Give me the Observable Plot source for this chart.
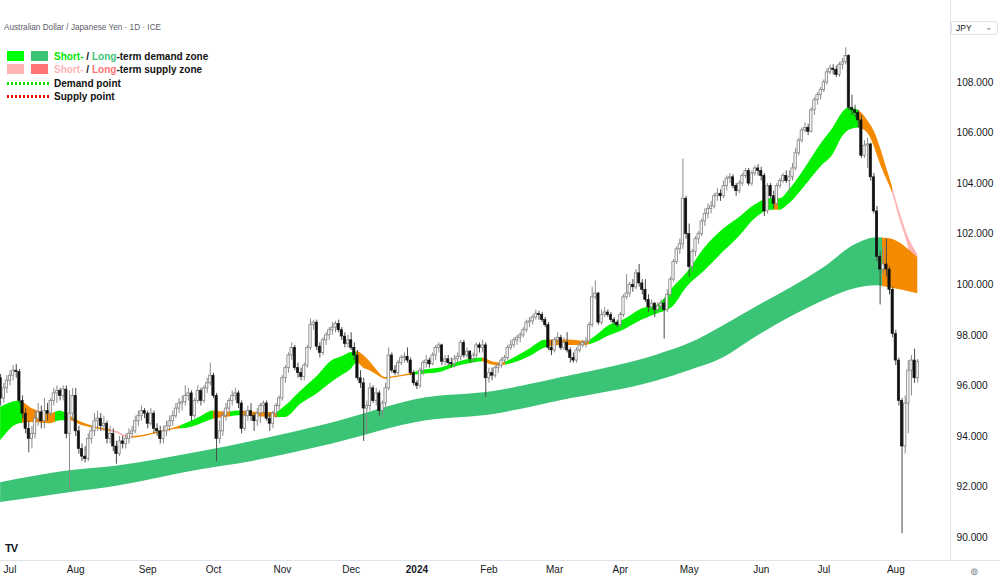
<!DOCTYPE html>
<html><head><meta charset="utf-8">
<script src="https://cdn.jsdelivr.net/npm/d3@7"></script>
<script src="https://cdn.jsdelivr.net/npm/@observablehq/plot@0.6"></script>
<style>
html,body{margin:0;padding:0;background:#fff;}
#wrap{position:relative;width:1000px;height:583px;overflow:hidden;font-family:"Liberation Sans",Arial,sans-serif;}
#chart svg{display:block}
.title{position:absolute;left:4px;top:23px;font-size:8.2px;color:#5d606b;white-space:nowrap}
.sq{position:absolute;width:17px;height:10px}
.lt{position:absolute;left:54px;font-family:"Liberation Sans",Arial,sans-serif;font-weight:bold;font-size:11.8px;color:#111;white-space:nowrap;line-height:12px;transform:scaleX(0.85);transform-origin:0 50%}
.dot{position:absolute;left:7px;width:42px;height:3px}
.sep-v{position:absolute;left:950px;top:0;width:1px;height:560px;background:#e0e3eb}
.sep-h{position:absolute;left:0;top:560px;width:1000px;height:1px;background:#e0e3eb}
.cur{position:absolute;left:951px;top:21px;width:45px;height:12px;border:1px solid #e0e3eb;border-radius:3px;font-size:8.5px;color:#131722;line-height:12px;background:#fff}
</style></head><body>
<div id="wrap">
<div id="chart"></div>
<div class="sep-v"></div><div class="sep-h"></div>
<div class="title">Australian Dollar / Japanese Yen · 1D · ICE</div>
<div class="sq" style="left:7px;top:51px;background:#00ff00"></div>
<div class="sq" style="left:31px;top:51px;background:#3cc476"></div>
<div class="lt" style="top:50px"><span style="color:#00e600">Short-</span> / <span style="color:#3cc476">Long</span>-term demand zone</div>
<div class="sq" style="left:7px;top:64px;background:#ffb3b3"></div>
<div class="sq" style="left:31px;top:64px;background:#ff7373"></div>
<div class="lt" style="top:63px"><span style="color:#ffb3b3">Short-</span> / <span style="color:#ff7373">Long</span>-term supply zone</div>
<div class="dot" style="top:82px;background:repeating-linear-gradient(90deg,#00e600 0 2px,transparent 2px 4px)"></div>
<div class="lt" style="top:77px">Demand point</div>
<div class="dot" style="top:95px;background:repeating-linear-gradient(90deg,#ff0000 0 2px,transparent 2px 4px)"></div>
<div class="lt" style="top:90px">Supply point</div>
<div class="cur"><span style="margin-left:4px">JPY</span><span style="position:absolute;right:4px;top:-1px;color:#787b86">&#8964;</span></div>
<div style="position:absolute;left:5px;top:542px;font-weight:bold;font-size:11px;letter-spacing:-1px;color:#131722">TV</div>
<div style="position:absolute;left:970px;top:566px;font-size:10px;color:#787b86;font-family:'DejaVu Sans'">&#8858;</div>
</div>
<script>
// ---- Daily candles AUD/JPY, bar index -3 (28 Jun 2023) .. 290 (12 Aug 2024)
const firstIndex = -3;
const opens = [
96.3,95.5,95.9,96.2,96.4,96.6,96.55,95.4,94.9,94.3,
93.9,94.1,94.7,94.95,94.6,95.0,94.9,95.4,95.7,95.8,
95.6,95.85,94.1,94.9,95.6,94.2,93.5,93.2,93.1,93.9,
94.2,94.6,94.7,94.4,94.5,93.9,94.1,93.6,93.3,93.8,
93.7,93.9,94.1,94.2,94.6,94.8,95.0,94.9,94.5,94.9,
94.3,94.2,93.9,94.2,94.4,94.6,94.8,95.1,95.3,95.35,
95.6,95.7,94.8,95.4,95.8,95.4,95.9,96.1,96.4,95.6,
93.9,94.2,94.8,95.1,95.4,95.6,95.7,95.3,94.3,94.8,
95.0,94.8,94.6,94.9,95.2,95.3,94.7,94.5,94.9,95.2,
95.5,96.3,96.7,97.2,97.5,96.7,96.5,96.35,96.8,97.5,
98.4,98.5,97.55,97.3,97.8,98.0,98.2,98.3,98.45,98.2,
97.95,97.65,97.8,97.5,97.2,96.3,96.1,95.1,95.2,95.9,
95.4,95.7,95.0,95.3,95.9,97.2,96.6,96.5,96.9,97.1,
97.15,97.0,96.5,96.1,96.0,96.6,96.9,97.0,96.85,97.2,
97.5,97.6,96.95,97.05,96.9,96.85,97.05,97.15,97.7,97.2,
97.35,97.05,97.2,97.6,97.5,97.6,96.3,96.5,96.4,96.7,
96.8,97.0,97.1,97.5,97.6,97.8,97.9,98.0,98.2,98.5,
98.55,98.7,98.85,98.8,98.6,98.4,97.5,97.4,97.8,97.9,
97.5,97.7,97.4,97.1,97.0,97.4,97.6,97.7,97.75,98.4,
99.5,99.65,98.5,98.8,98.9,98.8,98.6,98.5,98.4,98.8,
99.5,99.65,100.0,99.9,100.45,100.05,99.8,99.4,99.1,99.25,
99.0,99.15,99.25,99.0,99.6,100.2,100.9,101.4,101.6,103.4,
102.0,100.7,101.3,101.8,102.0,102.5,102.8,103.0,103.1,103.5,
103.6,103.5,103.9,104.2,104.25,103.9,103.7,104.0,104.3,104.5,
104.0,104.4,104.6,104.5,104.3,102.9,103.9,103.5,103.2,103.9,
104.1,104.3,104.1,104.25,104.6,105.2,105.7,106.1,106.2,106.05,
106.9,107.3,107.5,107.7,108.0,108.4,108.55,108.5,108.3,108.7,
108.8,109.05,107.0,106.9,106.8,106.5,105.1,105.5,105.55,104.25,
102.9,101.1,100.6,100.8,100.6,99.8,98.05,97.0,95.4,93.6,
95.3,96.6,97.0,96.3];
const highs = [
96.45,96.1,96.4,96.6,96.8,96.85,96.65,95.6,95.1,94.6,
94.4,95.0,95.3,95.2,95.5,95.3,95.5,95.9,96.0,95.9,
96.0,96.0,95.8,95.9,95.9,94.4,93.7,93.6,94.1,94.4,
94.9,95.0,94.9,94.8,94.6,94.4,94.3,93.8,94.0,94.0,
94.1,94.3,94.4,94.8,95.0,95.2,95.1,95.0,95.1,95.0,
94.5,94.4,94.4,94.6,94.8,95.0,95.3,95.5,95.6,96.0,
95.9,95.8,95.5,96.0,95.9,96.0,96.3,96.9,96.5,95.7,
94.6,95.0,95.3,95.5,95.8,95.9,95.8,95.4,95.0,95.2,
95.3,94.9,95.1,95.3,95.4,95.4,94.9,95.0,95.3,95.6,
96.4,96.8,97.3,97.7,97.6,96.9,96.7,96.9,97.6,98.64,
98.6,98.6,97.7,97.9,98.1,98.3,98.5,98.55,98.6,98.3,
98.1,98.0,98.1,97.7,97.4,96.6,96.3,95.4,96.1,96.0,
95.9,95.8,95.4,96.1,97.5,97.3,96.8,97.0,97.2,97.3,
97.5,97.1,96.6,96.2,96.7,97.0,97.2,97.1,97.3,97.6,
97.7,97.65,97.2,97.2,97.1,97.2,97.3,97.8,97.8,97.5,
97.4,97.3,97.7,97.7,97.8,97.7,96.7,96.7,96.8,96.9,
97.1,97.2,97.6,97.8,97.9,98.0,98.1,98.3,98.6,98.7,
98.8,99.0,98.95,98.9,98.7,98.5,97.8,97.9,98.1,98.0,
97.9,98.1,97.5,97.3,97.5,97.7,97.8,97.9,98.5,99.9,
100.15,99.7,99.0,99.1,99.0,98.9,98.7,98.6,98.9,99.6,
100.4,100.1,100.2,100.6,100.8,100.2,100.2,99.6,99.4,99.3,
99.3,99.4,99.4,99.8,100.3,101.0,101.5,101.8,104.97,103.5,
102.4,101.4,101.9,102.1,102.6,103.0,103.2,103.3,103.6,103.8,
103.75,104.1,104.3,104.4,104.35,104.0,104.1,104.4,104.6,104.6,
104.5,104.7,104.75,104.65,104.4,104.0,104.0,103.7,104.0,104.2,
104.4,104.5,104.5,104.8,105.4,105.8,106.2,106.4,106.35,107.0,
107.4,107.6,107.8,108.1,108.55,108.7,108.7,108.65,108.8,108.95,
109.37,109.1,107.5,107.1,106.9,106.7,105.7,105.8,105.6,104.4,
103.1,101.3,101.5,101.8,100.7,99.9,98.2,97.1,95.5,95.6,
97.0,97.2,97.45,97.05];
const lows = [
95.2,95.3,95.7,96.0,96.2,96.3,95.3,94.7,94.1,93.35,
93.5,93.9,94.4,94.3,94.3,94.6,94.8,95.2,95.3,95.4,
95.4,93.9,91.85,94.6,94.0,93.3,93.0,92.95,93.0,93.7,
94.0,94.2,94.2,94.2,93.7,93.7,93.4,92.9,93.2,93.5,
93.5,93.7,93.9,94.1,94.4,94.6,94.7,94.3,94.4,94.1,
94.0,93.7,93.7,94.0,94.2,94.4,94.7,94.9,95.0,95.2,
95.4,94.6,94.7,95.3,95.2,95.3,95.7,96.0,95.5,93.0,
93.7,94.0,94.6,94.9,95.2,95.4,95.1,94.1,94.2,94.6,
94.6,94.2,94.4,94.5,94.9,94.6,94.2,94.3,94.7,95.0,
95.4,96.1,96.5,97.0,96.6,96.3,96.2,96.2,96.7,97.4,
98.2,97.4,97.1,97.2,97.6,97.8,98.0,98.1,98.1,97.8,
97.5,97.5,97.4,97.0,96.2,95.9,93.8,94.1,95.0,95.3,
95.2,94.8,94.7,95.1,95.8,96.5,96.4,96.4,96.8,96.9,
96.9,96.4,96.0,95.85,95.9,96.4,96.7,96.7,96.8,97.0,
97.3,96.8,96.8,96.8,96.7,96.7,96.9,97.0,97.1,97.1,
96.9,96.9,97.1,97.3,97.3,95.55,96.1,96.2,96.3,96.5,
96.7,96.9,97.0,97.4,97.5,97.6,97.7,97.9,98.1,98.3,
98.4,98.6,98.6,98.5,98.3,97.4,97.2,97.3,97.6,97.4,
97.4,97.3,96.9,96.9,96.9,97.3,97.5,97.5,97.7,98.3,
99.4,98.4,98.4,98.7,98.7,98.5,98.4,98.3,98.3,98.7,
99.4,99.5,99.7,99.8,99.9,99.6,99.3,98.9,99.0,98.7,
98.9,99.0,97.85,98.9,99.5,100.1,100.8,101.2,101.4,101.8,
100.3,100.5,101.1,101.6,101.9,102.3,102.6,102.8,103.0,103.3,
103.3,103.4,103.7,104.0,103.8,103.5,103.6,103.9,104.2,103.9,
103.9,104.3,104.3,104.1,102.7,102.8,103.4,103.0,103.1,103.8,
104.0,104.0,103.6,104.1,104.5,105.1,105.6,106.0,105.9,106.0,
106.7,107.1,107.3,107.6,107.9,108.3,108.3,108.2,108.2,108.5,
108.7,106.9,106.7,106.6,106.2,105.0,105.0,104.6,104.1,102.8,
100.9,99.2,100.4,100.3,99.6,97.9,96.8,95.2,90.15,93.3,
94.1,95.6,96.1,96.1];
const closes = [
95.5,95.9,96.2,96.4,96.6,96.55,95.4,94.9,94.3,93.9,
94.1,94.7,94.95,94.6,95.0,94.9,95.4,95.7,95.8,95.6,
95.85,94.1,94.9,95.6,94.2,93.5,93.2,93.1,93.9,94.2,
94.6,94.7,94.4,94.5,93.9,94.1,93.6,93.3,93.8,93.7,
93.9,94.1,94.2,94.6,94.8,95.0,94.9,94.5,94.9,94.3,
94.2,93.9,94.2,94.4,94.6,94.8,95.1,95.3,95.35,95.6,
95.7,94.8,95.4,95.8,95.4,95.9,96.1,96.4,95.6,93.9,
94.2,94.8,95.1,95.4,95.6,95.7,95.3,94.3,94.8,95.0,
94.8,94.6,94.9,95.2,95.3,94.7,94.5,94.9,95.2,95.5,
96.3,96.7,97.2,97.5,96.7,96.5,96.35,96.8,97.5,98.4,
98.5,97.55,97.3,97.8,98.0,98.2,98.3,98.45,98.2,97.95,
97.65,97.8,97.5,97.2,96.3,96.1,95.1,95.2,95.9,95.4,
95.7,95.0,95.3,95.9,97.2,96.6,96.5,96.9,97.1,97.15,
97.0,96.5,96.1,96.0,96.6,96.9,97.0,96.85,97.2,97.5,
97.6,96.95,97.05,96.9,96.85,97.05,97.15,97.7,97.2,97.35,
97.05,97.2,97.6,97.5,97.6,96.3,96.5,96.4,96.7,96.8,
97.0,97.1,97.5,97.6,97.8,97.9,98.0,98.2,98.5,98.55,
98.7,98.85,98.8,98.6,98.4,97.5,97.4,97.8,97.9,97.5,
97.7,97.4,97.1,97.0,97.4,97.6,97.7,97.75,98.4,99.5,
99.65,98.5,98.8,98.9,98.8,98.6,98.5,98.4,98.8,99.5,
99.65,100.0,99.9,100.45,100.05,99.8,99.4,99.1,99.25,99.0,
99.15,99.25,99.0,99.6,100.2,100.9,101.4,101.6,103.4,102.0,
100.7,101.3,101.8,102.0,102.5,102.8,103.0,103.1,103.5,103.6,
103.5,103.9,104.2,104.25,103.9,103.7,104.0,104.3,104.5,104.0,
104.4,104.6,104.5,104.3,102.9,103.9,103.5,103.2,103.9,104.1,
104.3,104.1,104.25,104.6,105.2,105.7,106.1,106.2,106.05,106.9,
107.3,107.5,107.7,108.0,108.4,108.55,108.5,108.3,108.7,108.8,
109.05,107.0,106.9,106.8,106.5,105.1,105.5,105.55,104.25,102.9,
101.1,100.6,100.8,100.6,99.8,98.05,97.0,95.4,93.6,95.3,
96.6,97.0,96.3,96.95];

// ---- Short-term zone edges (read at sample bars)
const stIdx   = [-3,3,7,13,16,19,23,29,34,38,42,48,53,57,61,65,69,73,79,85,88,93,98,103,106,109,111,113,115,117,120,122,127,132,138,143,148,151,154,157,161,166,171,176,180,184,187,191,196,202,207,212,216,222,228,233,238,243,246,249,254,259,263,266,268,271,274,276,278,280,282,284,287,290];
const stUpper = [95.15,95.4,95.1,94.9,95.0,94.82,94.55,94.33,94.2,94.0,94.03,94.2,94.35,94.55,94.78,95.0,94.95,95.0,94.95,94.95,95.2,95.8,96.35,97.0,97.15,97.32,97.35,97.2,96.95,96.65,96.33,96.35,96.46,96.62,96.72,96.92,97.08,97.1,96.95,96.9,97.1,97.45,97.8,97.82,97.8,97.75,97.95,98.35,98.6,99.05,99.2,99.9,100.42,101.45,102.2,102.65,103.15,103.4,103.4,103.75,104.6,105.55,106.2,106.8,107.0,106.9,106.5,106.1,105.45,104.65,103.85,103.0,101.9,101.2];
const stLower = [93.83,94.5,94.55,94.5,94.62,94.62,94.43,94.26,94.12,93.93,93.97,94.14,94.28,94.33,94.49,94.68,94.75,94.82,94.78,94.75,94.75,95.28,95.67,96.15,96.4,96.65,96.9,96.7,96.6,96.45,96.26,96.3,96.4,96.46,96.55,96.77,96.9,96.95,96.82,96.8,96.9,97.15,97.5,97.6,97.6,97.6,97.7,97.95,98.2,98.6,98.85,99.15,99.85,100.55,101.3,101.9,102.6,102.95,102.95,103.2,103.9,104.65,105.15,105.85,106.1,106.2,106.0,105.5,104.8,104.2,103.6,102.7,101.5,99.7];
// colour state of the short-term zone by bar range
const stSegFrom  = [-3,3.9,14.5,17.7,32,39.6,54.5,65.1,70.4,73.6,85.4,110.6,129,150.9,158.3,172.2,185.3,244.2,245.4,271.5,282];
const stSegTo    = [3.9,14.5,17.7,32,39.6,54.5,65.1,70.4,73.6,85.4,110.6,129,150.9,158.3,172.2,185.3,244.2,245.4,271.5,282,290];
const stSegState = ["demand","mixed","demand","mixed","supply","mixed","demand","mixed","demand","mixed","demand","mixed","demand","mixed","demand","mixed","demand","mixed","demand","mixed","supply"];

// ---- Long-term zone edges
const ltIdx   = [-3,19,35,61,77,102,133,154,176,207,217,228,238,249,260,270,277,281,290];
const ltUpper = [92.17,92.64,92.84,93.39,93.79,94.5,95.53,95.77,96.32,97.23,97.67,98.38,99.09,99.84,100.67,101.58,101.86,101.82,101.07];
const ltLower = [91.38,91.77,92.05,92.68,93.0,93.67,94.62,94.86,95.41,96.2,96.6,97.11,97.9,98.69,99.37,99.84,99.96,99.88,99.64];
const ltSegFrom  = [-3,278.6];
const ltSegTo    = [278.6,290];
const ltSegState = ["demand","mixed"];

// ---- Axis ticks
const yTicks = [90,92,94,96,98,100,102,104,106,108];
const monthTickIdx = [0,21,44,65,87,109,130,153,174,195,217,240,260,283];
const monthTickLabels = ["Jul","Aug","Sep","Oct","Nov","Dec","2024","Feb","Mar","Apr","May","Jun","Jul","Aug"];

const stColors = {demand:"#00f000", mixed:"#f48a00", supply:"#ffb5b5"};
const ltColors = {demand:"#3cc476", mixed:"#f48a00"};

const candles = closes.map((c,k)=>({i:firstIndex+k, o:opens[k], h:highs[k], l:lows[k], c}));
const up = candles.filter(d=>d.c>=d.o), down = candles.filter(d=>d.c<d.o);
const shortBand = stIdx.map((i,k)=>({i, hi:stUpper[k], lo:stLower[k]}));
const longBand = ltIdx.map((i,k)=>({i, hi:ltUpper[k], lo:ltLower[k]}));
const months = monthTickIdx.map((i,k)=>({i, label:monthTickLabels[k]}));
const half = 0.37;

const plot = Plot.plot({
  width:1000, height:583,
  marginLeft:0, marginRight:50, marginTop:0, marginBottom:23,
  x:{domain:[-3,290], range:[0.11,917.2], axis:null},
  y:{domain:[90,108], range:[537,82], axis:null},
  style:{background:"white", fontFamily:"Liberation Sans, Arial, sans-serif", overflow:"visible"},
  marks:[
    Plot.areaY(shortBand,{x:"i", y1:"lo", y2:"hi", fill:"url(#stGrad)", curve:"monotone-x", clip:true}),
    Plot.areaY(longBand,{x:"i", y1:"lo", y2:"hi", fill:"url(#ltGrad)", curve:"monotone-x", clip:true}),
    Plot.ruleX(up,{x:"i", y1:"l", y2:"h", stroke:"#8a8a8a", strokeWidth:1, clip:true}),
    Plot.ruleX(down,{x:"i", y1:"l", y2:"h", stroke:"#4a4a4a", strokeWidth:1, clip:true}),
    Plot.rect(up,{x1:d=>d.i-half, x2:d=>d.i+half, y1:"o", y2:"c", fill:"white", stroke:"#8a8a8a", strokeWidth:0.9, clip:true}),
    Plot.rect(down,{x1:d=>d.i-half, x2:d=>d.i+half, y1:"o", y2:"c", fill:"#111", stroke:"#111", strokeWidth:0.6, clip:true}),
    Plot.text(yTicks,{y:d=>d, text:d=>d.toFixed(3), frameAnchor:"right", dx:6, textAnchor:"start", fontSize:10.2, fill:"#131722"}),
    Plot.text(months.filter(d=>!/^\d+$/.test(d.label)),{x:"i", text:"label", frameAnchor:"bottom", dy:12, fontSize:10, fill:"#131722"}),
    Plot.text(months.filter(d=>/^\d+$/.test(d.label)),{x:"i", text:"label", frameAnchor:"bottom", dy:12, fontSize:10, fontWeight:"bold", fill:"#131722"})
  ]
});

// gradients carrying the zone colour states along the x scale
const xs = plot.scale("x");
const X1 = xs.apply(-3), X2 = xs.apply(290);
const ns = "http://www.w3.org/2000/svg";
const defs = document.createElementNS(ns,"defs");
function grad(id, from, to, states, colors){
  const g = document.createElementNS(ns,"linearGradient");
  g.setAttribute("id",id); g.setAttribute("gradientUnits","userSpaceOnUse");
  g.setAttribute("x1",X1); g.setAttribute("x2",X2); g.setAttribute("y1",0); g.setAttribute("y2",0);
  from.forEach((a,k)=>{
    for (const v of [a, to[k]]) {
      const s = document.createElementNS(ns,"stop");
      s.setAttribute("offset", Math.max(0,Math.min(1,(xs.apply(v)-X1)/(X2-X1))));
      s.setAttribute("stop-color", colors[states[k]]);
      g.appendChild(s);
    }
  });
  defs.appendChild(g);
}
grad("stGrad", stSegFrom, stSegTo, stSegState, stColors);
grad("ltGrad", ltSegFrom, ltSegTo, ltSegState, ltColors);
plot.insertBefore(defs, plot.firstChild);
document.getElementById("chart").appendChild(plot);
</script>
</body></html>
